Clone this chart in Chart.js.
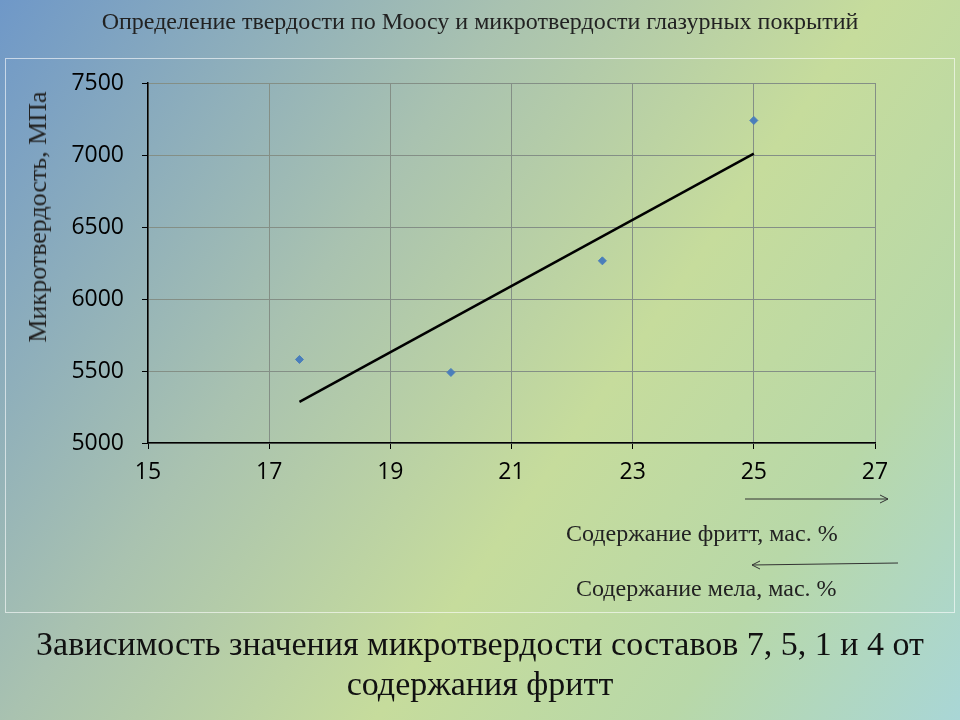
<!DOCTYPE html>
<html><head><meta charset="utf-8">
<script src="https://cdn.jsdelivr.net/npm/chart.js@4"></script>
<style>
body{margin:0;width:960px;height:720px;overflow:hidden;position:relative;
 background:linear-gradient(125deg,#6f98c8 0%,#a9c2b0 35%,#c6dc9c 60%,#b8d8a8 80%,#a9d6d6 100%);}
#frame{position:absolute;left:5px;top:58px;width:948px;height:553px;border:1px solid rgba(255,255,255,0.6);}
.t{position:absolute;font-family:"Liberation Serif",serif;color:#222;white-space:nowrap}
canvas{position:absolute;left:0;top:0}
</style></head><body>
<div id="frame"></div>
<canvas id="c" width="960" height="720"></canvas>
<div class="t" style="left:0;width:960px;text-align:center;top:8px;font-size:24px">Определение твердости по Моосу и микротвердости глазурных покрытий</div>
<div class="t" style="left:38px;top:217px;font-size:26px;transform:translate(-50%,-50%) rotate(-90deg)">Микротвердость, МПа</div>
<div class="t" style="left:566px;top:520px;font-size:24px">Содержание фритт, мас. %</div>
<div class="t" style="left:576px;top:575px;font-size:24px">Содержание мела, мас. %</div>
<div class="t" style="left:0;width:960px;text-align:center;top:624px;font-size:34px;line-height:40px;color:#111">Зависимость значения микротвердости составов 7, 5, 1 и 4 от<br>содержания фритт</div>
<svg style="position:absolute;left:0;top:0" width="960" height="720">
 <line x1="745" y1="499" x2="888" y2="499" stroke="#333" stroke-width="1"/>
 <polyline points="880,495 888,499 880,503" fill="none" stroke="#333"/>
 <line x1="752" y1="565" x2="898" y2="563" stroke="#333" stroke-width="1"/>
 <polyline points="760,561 752,565 760,569" fill="none" stroke="#333"/>
</svg>
<script>
const fritX = [17.5, 20, 22.5, 25];
const hardness = [5580, 5490, 6265, 7240];
const trendX = [17.5, 25];
const trendY = [5285, 7010];
const xTicks = [15, 17, 19, 21, 23, 25, 27];

new Chart(document.getElementById('c'), {
  type: 'scatter',
  data: {
    datasets: [
      { data: fritX.map((x, i) => ({x: x, y: hardness[i]})), pointStyle: 'rectRot',
        pointRadius: 4, backgroundColor: '#4a7ebb', borderColor: '#4a7ebb' },
      { data: trendX.map((x, i) => ({x: x, y: trendY[i]})), showLine: true,
        pointRadius: 0, borderColor: '#000', borderWidth: 2.5 }
    ]
  },
  options: {
    responsive: false, animation: false,
    layout: { padding: { left: 0, top: 83, right: 85, bottom: 227 } },
    plugins: { legend: { display: false }, tooltip: { enabled: false } },
    scales: {
      x: {
        type: 'linear', min: 15, max: 27,
        afterBuildTicks: s => { s.ticks = xTicks.map(v => ({value: v})); },
        afterFit: s => { s.height = 50; },
        grid: { color: '#848f86', tickColor: '#000', tickLength: 6 },
        border: { color: '#000', width: 1.5 },
        ticks: { color: '#000', font: { family: 'Open Sans', size: 23 }, padding: 10 }
      },
      y: {
        min: 5000, max: 7500,
        afterFit: s => { s.width = 148; },
        grid: { color: '#848f86', tickColor: '#000', tickLength: 6 },
        border: { color: '#000', width: 1.5 },
        ticks: { stepSize: 500, color: '#000', font: { family: 'Open Sans', size: 23 }, padding: 18,
                 callback: v => String(v) }
      }
    }
  }
});
</script>
</body></html>
